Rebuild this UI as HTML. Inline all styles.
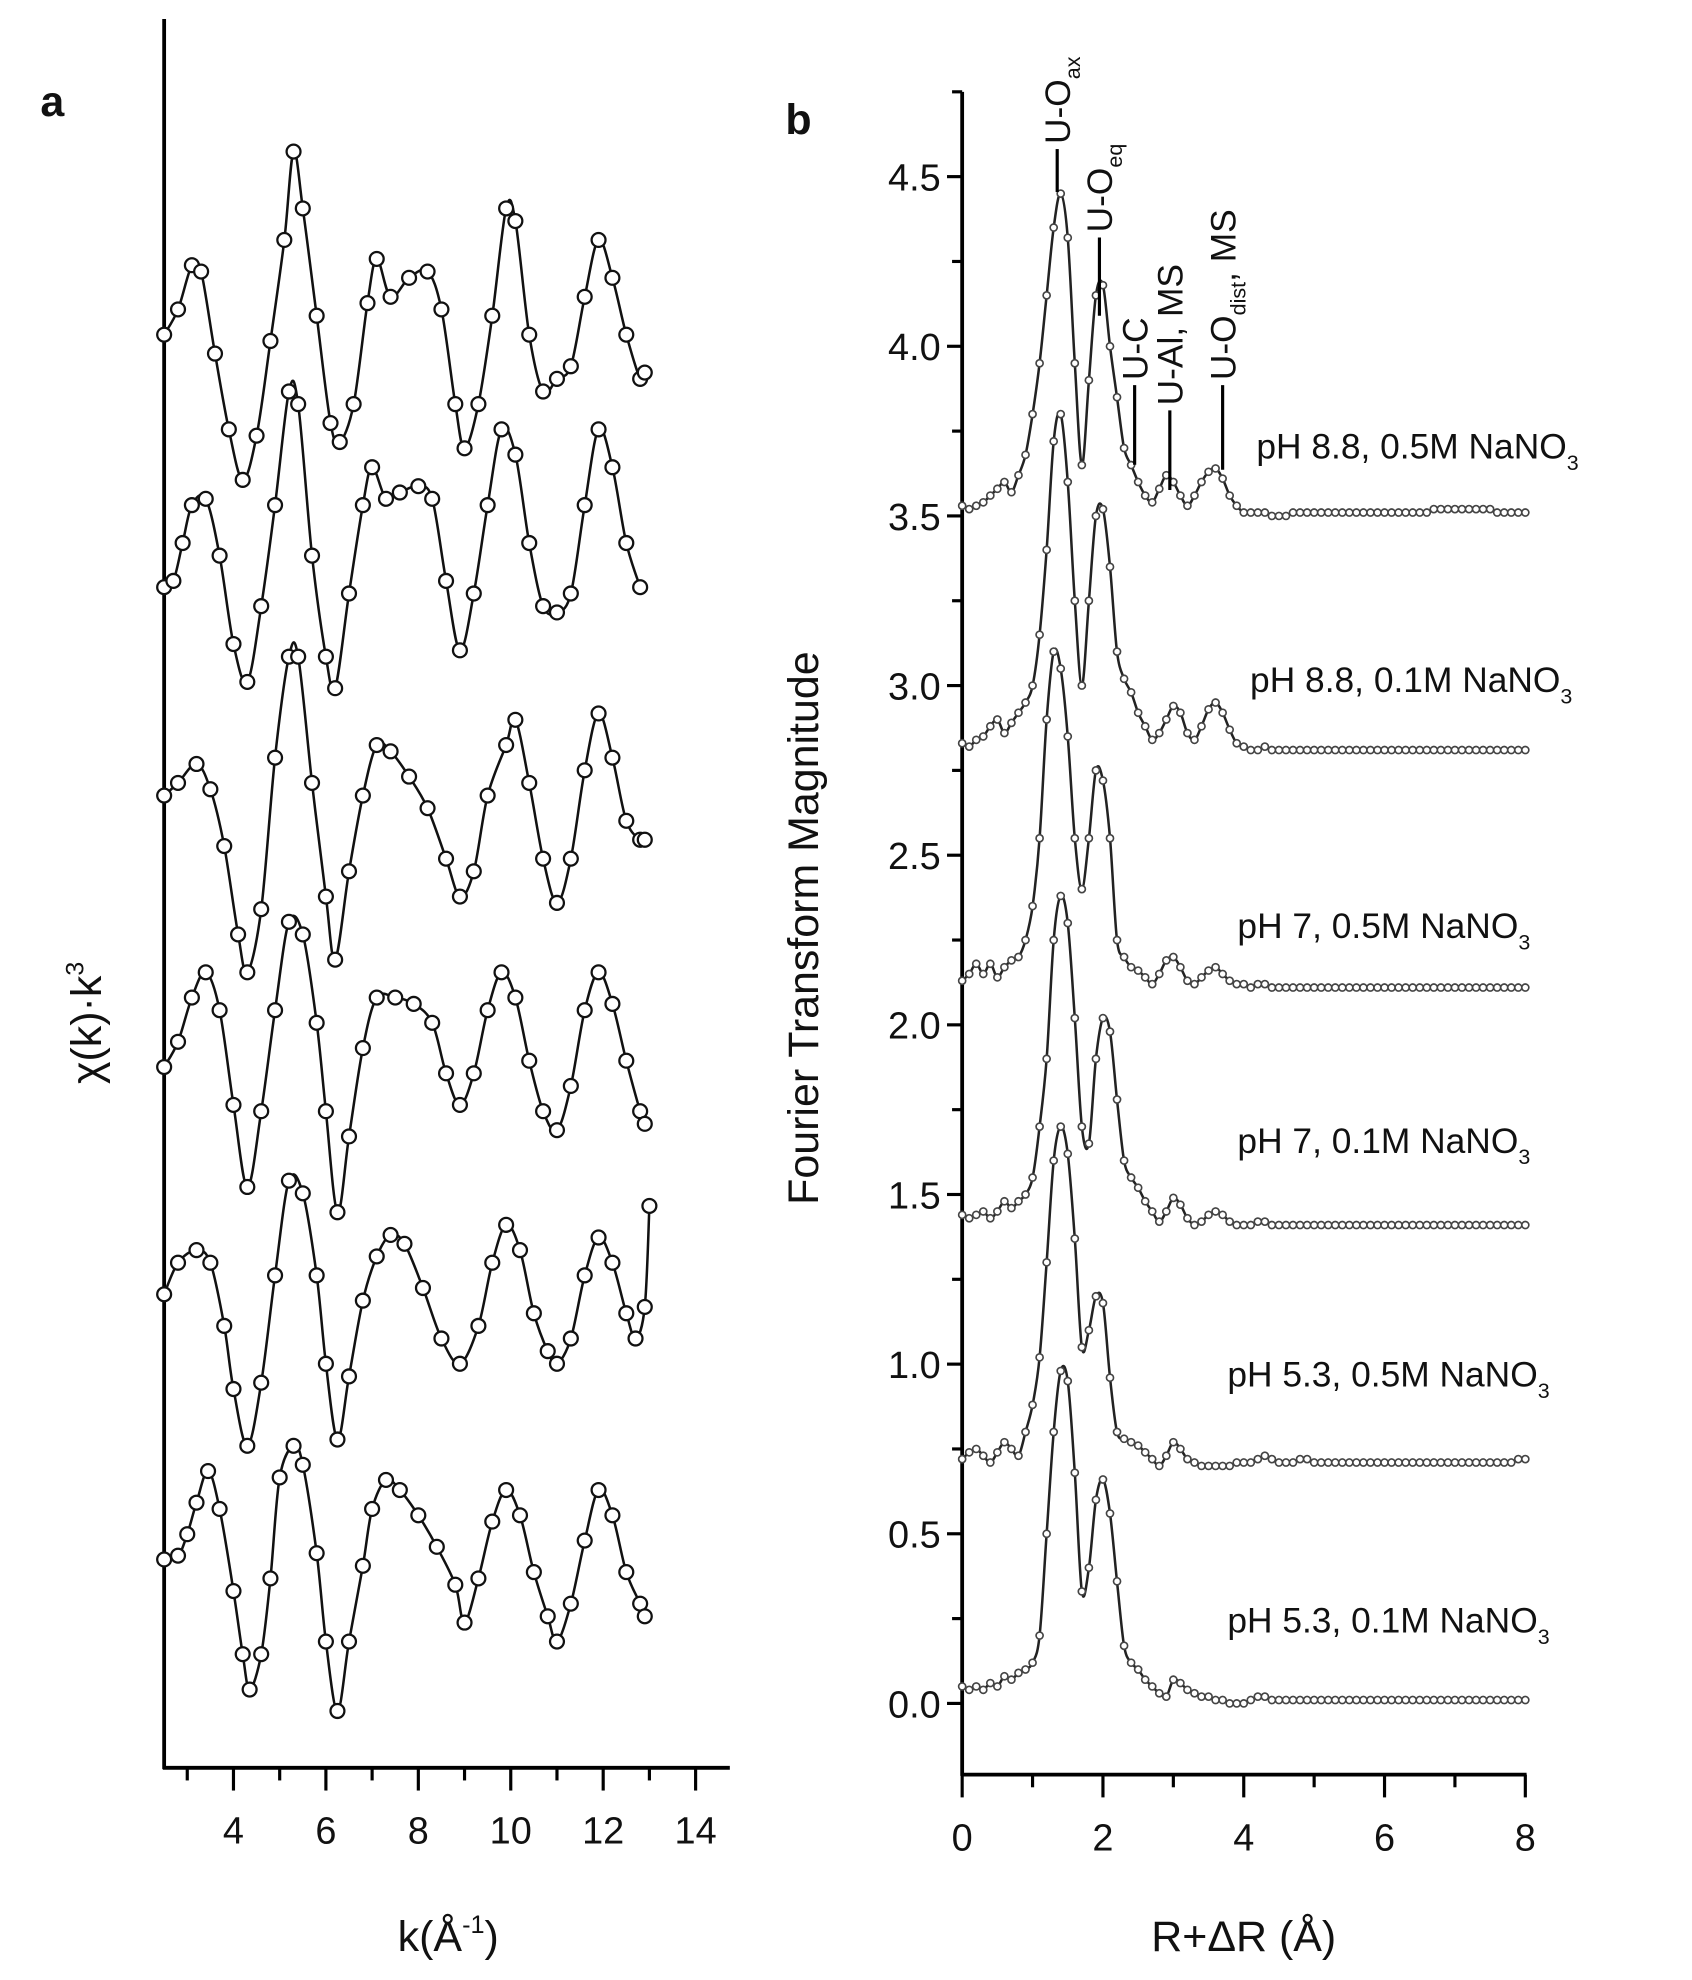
<!DOCTYPE html>
<html><head><meta charset="utf-8"><style>
html,body{margin:0;padding:0;background:#fff;}
svg{display:block;}
text{font-family:"Liberation Sans",sans-serif;fill:#111;}
</style></head><body>
<svg id="fig" width="1692" height="1980" viewBox="0 0 1340 1568" xmlns="http://www.w3.org/2000/svg">
<g id="panelA"></g>
<g id="panelB"></g>
</svg>
<script>
// ---------- Panel a data (k in 1/Å, chi*k^3 stacked in arbitrary units) ----------
const kS1=[2.5,2.8,3.1,3.3,3.6,3.9,4.2,4.5,4.8,5.1,5.3,5.5,5.8,6.1,6.3,6.6,6.9,7.1,7.4,7.8,8.2,8.5,8.8,9.0,9.3,9.6,9.9,10.1,10.4,10.7,11.0,11.3,11.6,11.9,12.2,12.5,12.8,12.9];
const chiS1=[113.5,115.5,119,118.5,112,106,102,105.5,113,121,128,123.5,115,106.5,105,108,116,119.5,116.5,118,118.5,115.5,108,104.5,108,115,123.5,122.5,113.5,109,110,111,116.5,121,118,113.5,110,110.5];
const kS2=[2.5,2.7,2.9,3.1,3.4,3.7,4.0,4.3,4.6,4.9,5.2,5.4,5.7,6.0,6.2,6.5,6.8,7.0,7.3,7.6,8.0,8.3,8.6,8.9,9.2,9.5,9.8,10.1,10.4,10.7,11.0,11.3,11.6,11.9,12.2,12.5,12.8];
const chiS2=[93.5,94,97,100,100.5,96,89,86,92,100,109,108,96,88,85.5,93,100,103,100.5,101,101.5,100.5,94,88.5,93,100,106,104,97,92,91.5,93,100,106,103,97,93.5];
const kS3=[2.5,2.8,3.2,3.5,3.8,4.1,4.3,4.6,4.9,5.2,5.4,5.7,6.0,6.2,6.5,6.8,7.1,7.4,7.8,8.2,8.6,8.9,9.2,9.5,9.9,10.1,10.4,10.7,11.0,11.3,11.6,11.9,12.2,12.5,12.8,12.9];
const chiS3=[77,78,79.5,77.5,73,66,63,68,80,88,88,78,69,64,71,77,81,80.5,78.5,76,72,69,71,77,81,83,78,72,68.5,72,79,83.5,80,75,73.5,73.5];
const kS4=[2.5,2.8,3.1,3.4,3.7,4.0,4.3,4.6,4.9,5.2,5.5,5.8,6.0,6.25,6.5,6.8,7.1,7.5,7.9,8.3,8.6,8.9,9.2,9.5,9.8,10.1,10.4,10.7,11.0,11.3,11.6,11.9,12.2,12.5,12.8,12.9];
const chiS4=[55.5,57.5,61,63,60,52.5,46,52,60,67,66,59,52,44,50,57,61,61,60.5,59,55,52.5,55,60,63,61,56,52,50.5,54,60,63,60.5,56,52,51];
const kS5=[2.5,2.8,3.2,3.5,3.8,4.0,4.3,4.6,4.9,5.2,5.5,5.8,6.0,6.25,6.5,6.8,7.1,7.4,7.7,8.1,8.5,8.9,9.3,9.6,9.9,10.2,10.5,10.8,11.0,11.3,11.6,11.9,12.2,12.5,12.7,12.9,13.0];
const chiS5=[37.5,40,41,40,35,30,25.5,30.5,39,46.5,45.5,39,32,26,31,37,40.5,42.2,41.5,38,34,32,35,40,43,41,36,33,32,34,39,42,40,36,34,36.5,44.5];
const kS6=[2.5,2.8,3.0,3.2,3.45,3.7,4.0,4.2,4.35,4.6,4.8,5.0,5.3,5.5,5.8,6.0,6.25,6.5,6.8,7.0,7.3,7.6,8.0,8.4,8.8,9.0,9.3,9.6,9.9,10.2,10.5,10.8,11.0,11.3,11.6,11.9,12.2,12.5,12.8,12.9];
const chiS6=[16.5,16.8,18.5,21,23.5,20.5,14,9,6.2,9,15,23,25.5,24,17,10,4.5,10,16,20.5,22.8,22,20,17.5,14.5,11.5,15,19.5,22,20,15.5,12,10,13,18,22,20,15.5,13,12];
const kTicks=[4,6,8,10,12,14];
const kMinor=[3,5,7,9,11,13];

// ---------- Panel b data (R in Å, FT magnitude) ----------
const rStep=0.1;
const ftOffsets=[0,0.7,1.4,2.1,2.8,3.5];
const ftLabels=["pH 5.3, 0.1M NaNO","pH 5.3, 0.5M NaNO","pH 7, 0.1M NaNO","pH 7, 0.5M NaNO","pH 8.8, 0.1M NaNO","pH 8.8, 0.5M NaNO"];
const ft53a=[0.05,0.04,0.05,0.04,0.06,0.05,0.08,0.07,0.09,0.1,0.12,0.2,0.5,0.8,0.98,0.95,0.68,0.33,0.4,0.6,0.66,0.56,0.36,0.17,0.12,0.1,0.07,0.05,0.03,0.02,0.07,0.06,0.04,0.03,0.02,0.02,0.01,0.01,0,0,0,0.01,0.02,0.02,0.01,0.01,
 0.01,0.01,0.01,0.01,0.01,0.01,0.01,0.01,0.01,0.01,0.01,0.01,0.01,0.01,0.01,0.01,0.01,0.01,0.01,0.01,0.01,0.01,0.01,0.01,0.01,0.01,0.01,0.01,0.01,0.01,0.01,0.01,0.01,0.01,0.01];
const ft53b=[0.02,0.04,0.05,0.03,0.01,0.04,0.07,0.05,0.03,0.1,0.18,0.32,0.6,0.9,1.0,0.92,0.67,0.35,0.4,0.5,0.48,0.26,0.1,0.08,0.07,0.06,0.04,0.02,0,0.03,0.07,0.05,0.02,0.01,0,0,0,0,0,0.01,0.01,0.01,0.02,0.03,0.02,0.01,
 0.01,0.01,0.02,0.02,0.01,0.01,0.01,0.01,0.01,0.01,0.01,0.01,0.01,0.01,0.01,0.01,0.01,0.01,0.01,0.01,0.01,0.01,0.01,0.01,0.01,0.01,0.01,0.01,0.01,0.01,0.01,0.01,0.01,0.02,0.02];
const ft7a=[0.04,0.03,0.04,0.05,0.03,0.05,0.08,0.06,0.08,0.1,0.15,0.3,0.5,0.85,0.98,0.9,0.62,0.3,0.25,0.5,0.62,0.58,0.38,0.2,0.15,0.12,0.08,0.05,0.02,0.05,0.09,0.07,0.03,0.01,0.02,0.04,0.05,0.04,0.02,0.01,0.01,0.01,0.02,0.02,0.01,0.01,
 0.01,0.01,0.01,0.01,0.01,0.01,0.01,0.01,0.01,0.01,0.01,0.01,0.01,0.01,0.01,0.01,0.01,0.01,0.01,0.01,0.01,0.01,0.01,0.01,0.01,0.01,0.01,0.01,0.01,0.01,0.01,0.01,0.01,0.01,0.01];
const ft7b=[0.03,0.05,0.08,0.05,0.08,0.04,0.07,0.09,0.1,0.15,0.25,0.45,0.8,1.0,0.95,0.75,0.45,0.3,0.45,0.65,0.62,0.45,0.15,0.1,0.07,0.06,0.04,0.02,0.05,0.09,0.1,0.07,0.03,0.02,0.04,0.06,0.07,0.05,0.03,0.02,0.02,0.01,0.02,0.02,0.01,0.01,
 0.01,0.01,0.01,0.01,0.01,0.01,0.01,0.01,0.01,0.01,0.01,0.01,0.01,0.01,0.01,0.01,0.01,0.01,0.01,0.01,0.01,0.01,0.01,0.01,0.01,0.01,0.01,0.01,0.01,0.01,0.01,0.01,0.01,0.01,0.01];
const ft88a=[0.03,0.02,0.04,0.05,0.08,0.1,0.06,0.09,0.12,0.15,0.2,0.35,0.6,0.92,1.0,0.8,0.45,0.2,0.45,0.7,0.72,0.55,0.3,0.22,0.18,0.12,0.08,0.04,0.06,0.1,0.14,0.12,0.06,0.04,0.08,0.13,0.15,0.12,0.07,0.03,0.02,0.01,0.01,0.02,0.01,0.01,
 0.01,0.01,0.01,0.01,0.01,0.01,0.01,0.01,0.01,0.01,0.01,0.01,0.01,0.01,0.01,0.01,0.01,0.01,0.01,0.01,0.01,0.01,0.01,0.01,0.01,0.01,0.01,0.01,0.01,0.01,0.01,0.01,0.01,0.01,0.01];
const ft88b=[0.03,0.02,0.03,0.04,0.06,0.08,0.1,0.07,0.12,0.18,0.3,0.45,0.65,0.85,0.95,0.82,0.45,0.15,0.4,0.65,0.68,0.5,0.35,0.2,0.15,0.1,0.06,0.04,0.08,0.12,0.1,0.06,0.03,0.06,0.1,0.13,0.14,0.11,0.06,0.03,0.01,0.01,0.01,0.01,0,0,
 0,0.01,0.01,0.01,0.01,0.01,0.01,0.01,0.01,0.01,0.01,0.01,0.01,0.01,0.01,0.01,0.01,0.01,0.01,0.01,0.01,0.02,0.02,0.02,0.02,0.02,0.02,0.02,0.02,0.02,0.01,0.01,0.01,0.01,0.01];
const rTicks=[0,2,4,6,8];
const rMinor=[1,3,5,7];
const ftTicks=[0,0.5,1,1.5,2,2.5,3,3.5,4,4.5];
const ftTickLabels=["0.0","0.5","1.0","1.5","2.0","2.5","3.0","3.5","4.0","4.5"];

const NS="http://www.w3.org/2000/svg";
function mk(parent,tag,attrs){const e=document.createElementNS(NS,tag);for(const k in attrs)e.setAttribute(k,attrs[k]);parent.appendChild(e);return e;}
function smooth(pts){let d="M"+pts[0][0].toFixed(1)+","+pts[0][1].toFixed(1);
 for(let i=0;i<pts.length-1;i++){const p0=pts[Math.max(i-1,0)],p1=pts[i],p2=pts[i+1],p3=pts[Math.min(i+2,pts.length-1)];
  const c1=[p1[0]+(p2[0]-p0[0])/6,p1[1]+(p2[1]-p0[1])/6],c2=[p2[0]-(p3[0]-p1[0])/6,p2[1]-(p3[1]-p1[1])/6];
  d+="C"+c1[0].toFixed(1)+","+c1[1].toFixed(1)+" "+c2[0].toFixed(1)+","+c2[1].toFixed(1)+" "+p2[0].toFixed(1)+","+p2[1].toFixed(1);}
 return d;}

// ---------- Panel a ----------
const A=document.getElementById('panelA');
const xK=k=>130+(k-2.5)*36.6;
const yK=v=>1400-v*10;
let t=mk(A,'text',{x:32,y:92,'font-size':34,'font-weight':'bold','font-family':'Liberation Serif,serif'});t.textContent='a';


let ax=mk(A,'line',{x1:130,y1:15,x2:130,y2:1401,stroke:'#000','stroke-width':3});


ax=mk(A,'line',{x1:129,y1:1400,x2:578,y2:1400,stroke:'#000','stroke-width':3});


kTicks.forEach(k=>{const l=mk(A,'line',{x1:xK(k),y1:1400,x2:xK(k),y2:1418,stroke:'#000','stroke-width':2.5});
 
 
 const tx=mk(A,'text',{x:xK(k),y:1460,'font-size':30,'text-anchor':'middle'});tx.textContent=k;
 
 });
kMinor.forEach(k=>{const l=mk(A,'line',{x1:xK(k),y1:1400,x2:xK(k),y2:1410,stroke:'#000','stroke-width':2.5});
 
 });
t=mk(A,'text',{x:355,y:1545,'font-size':34,'text-anchor':'middle'});t.innerHTML='k(Å<tspan font-size="20" dy="-14">-1</tspan><tspan dy="14">)</tspan>';


t=mk(A,'text',{x:0,y:0,'font-size':34,'text-anchor':'middle',transform:'translate(80,810) rotate(-90)'});t.innerHTML='χ(k)·k<tspan font-size="20" dy="-14">3</tspan>';


const aSeries=[[kS1,chiS1],[kS2,chiS2],[kS3,chiS3],[kS4,chiS4],[kS5,chiS5],[kS6,chiS6]];
aSeries.forEach((s,i)=>{const pts=s[0].map((k,j)=>[xK(k),yK(s[1][j])]);
 const p=mk(A,'path',{d:smooth(pts),fill:'none',stroke:'#111','stroke-width':2});
 
 
 pts.forEach(q=>{const c=mk(A,'circle',{cx:q[0],cy:q[1],r:5.5,fill:'#fff',stroke:'#111','stroke-width':1.8});
  
  });});

// ---------- Panel b ----------
const B=document.getElementById('panelB');
const xR=r=>762+r*55.75;
const yF=v=>1349-v*268.7;
t=mk(B,'text',{x:622,y:106,'font-size':34,'font-weight':'bold','font-family':'Liberation Serif,serif'});t.textContent='b';


ax=mk(B,'line',{x1:762,y1:yF(4.75),x2:762,y2:yF(-0.21)+1,stroke:'#000','stroke-width':3});


ax=mk(B,'line',{x1:761,y1:yF(-0.21),x2:xR(8)+1,y2:yF(-0.21),stroke:'#000','stroke-width':3});


const yb=yF(-0.21);
rTicks.forEach(r=>{const l=mk(B,'line',{x1:xR(r),y1:yb,x2:xR(r),y2:yb+18,stroke:'#000','stroke-width':2.5});
 
 
 const tx=mk(B,'text',{x:xR(r),y:yb+60,'font-size':30,'text-anchor':'middle'});tx.textContent=r;
 
 });
rMinor.forEach(r=>{const l=mk(B,'line',{x1:xR(r),y1:yb,x2:xR(r),y2:yb+10,stroke:'#000','stroke-width':2.5});
 
 });
ftTicks.forEach((v,i)=>{const l=mk(B,'line',{x1:750,y1:yF(v),x2:762,y2:yF(v),stroke:'#000','stroke-width':2.5});
 
 
 const m=mk(B,'line',{x1:754,y1:yF(v+0.25),x2:762,y2:yF(v+0.25),stroke:'#000','stroke-width':2.5});
 
 
 const tx=mk(B,'text',{x:745,y:yF(v)+11,'font-size':30,'text-anchor':'end'});tx.textContent=ftTickLabels[i];
 
 });
t=mk(B,'text',{x:985,y:1545,'font-size':34,'text-anchor':'middle'});t.textContent='R+ΔR (Å)';


t=mk(B,'text',{x:0,y:0,'font-size':34,'text-anchor':'middle',transform:'translate(648,735) rotate(-90)'});t.textContent='Fourier Transform Magnitude';


const bSeries=[ft53a,ft53b,ft7a,ft7b,ft88a,ft88b];
const labelPos=[[972,1293],[972,1098],[980,913],[980,743],[990,548],[995,363]];
bSeries.forEach((s,i)=>{const pts=s.map((v,j)=>[xR(j*rStep),yF(v+ftOffsets[i])]);
 const p=mk(B,'path',{d:smooth(pts),fill:'none',stroke:'#222','stroke-width':2});
 
 
 pts.forEach(q=>{const c=mk(B,'circle',{cx:q[0],cy:q[1],r:2.8,fill:'#fff',stroke:'#444','stroke-width':1.3});
  
  });
 const tx=mk(B,'text',{x:labelPos[i][0],y:labelPos[i][1],'font-size':28});tx.innerHTML=ftLabels[i]+'<tspan font-size="17" dy="9">3</tspan>';
 
 });
// peak annotations
const ann=[[1.35,118,152,'U-O','ax'],[1.95,188,250,'U-O','eq'],[2.45,305,368,'U-C',''],[2.95,325,388,'U-Al, MS',''],[3.7,305,372,'U-O','dist'] ];
ann.forEach((a,i)=>{const x=xR(a[0]);
 const l=mk(B,'line',{x1:x,y1:a[1],x2:x,y2:a[2],stroke:'#000','stroke-width':2.5});
 
 
 const tx=mk(B,'text',{x:0,y:0,'font-size':28,transform:'translate('+(x+10)+','+(a[1]-4)+') rotate(-90)'});
 let h=a[3];if(a[4])h+='<tspan font-size="17" dy="8">'+a[4]+'</tspan>';if(a[4]==='dist')h+='<tspan dy="-8">, MS</tspan>';
 tx.innerHTML=h;
 
 });
</script>
</body></html>
